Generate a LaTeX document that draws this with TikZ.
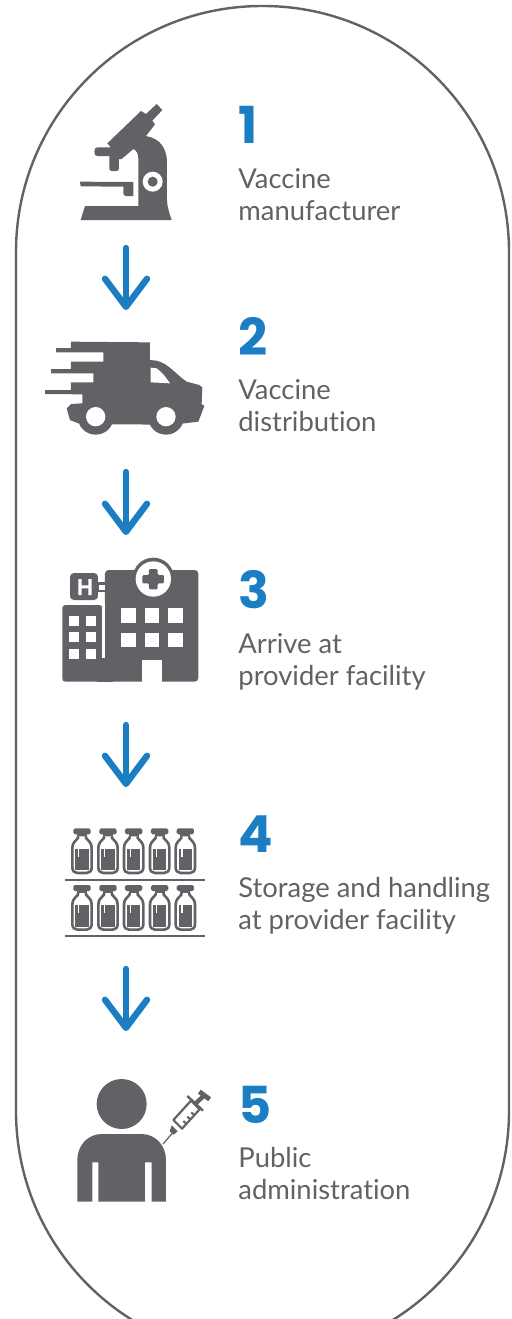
\documentclass[tikz,border=0pt]{standalone}
\usepackage{fontspec}
\setmainfont{Lato}[Ligatures=NoCommon]
\newfontfamily\numfont{Poppins}[UprightFont=*-Bold]
\usetikzlibrary{arrows.meta}
\definecolor{iconc}{HTML}{616266}
\definecolor{bluec}{HTML}{1B7DC2}
\tikzset{
  x=0.5pt,y=-0.5pt,
  num/.style={anchor=base west,inner sep=0pt,text=bluec,font=\numfont\fontsize{25.5pt}{25.5pt}\selectfont},
  lab/.style={anchor=base west,inner sep=0pt,text=iconc,font=\fontsize{13.7pt}{16pt}\selectfont,align=left},
  flow/.style={draw=bluec,line width=3.2pt,line cap=round,-{Straight Barb[round,length=14pt,width=21pt,line width=3.2pt]}},
  zoomed/.style={scale=1/3},
  ic/.style={fill=iconc,draw=none},
  wh/.style={fill=white,draw=none}
}
\newcommand{\vial}[2]{%
 \begin{scope}[shift={(#1,#2)}]
  \fill[iconc,rounded corners=0.8pt] (-26,0) rectangle (26,18);
  \fill[iconc] (-15,18) rectangle (15,26);
  \draw[iconc,line width=1.3pt,fill=white,line join=round] (-12,24) -- (-12,29) .. controls (-20,38) and (-29,44) .. (-29,58) -- (-29,118) .. controls (-29,128) and (-22,134) .. (-14,134) -- (14,134) .. controls (22,134) and (29,128) .. (29,118) -- (29,58) .. controls (29,44) and (20,38) .. (12,29) -- (12,24);
  \fill[iconc] (-20,61) rectangle (20,125);
  \fill[white] (-12,61) rectangle (-8,85);
 \end{scope}}
\begin{document}
\begin{tikzpicture}
\useasboundingbox (0,0) rectangle (511,1319);
\begin{scope}
\clip (0,0) rectangle (511,1319);
\draw[iconc,line width=1.2pt,rounded corners=123pt] (16,6) rectangle (509,1357);
\end{scope}

% microscope
\begin{scope}[shift={(40,90)},zoomed]
 \fill[ic,line join=round] (202,160) -- (303,63) -- (318,72) -- (350,42) -- (367,60) -- (337,92) -- (345,103) -- (318,138)
   .. controls (360,145) and (380,175) .. (381,215) -- (381,330) .. controls (381,350) and (390,375) .. (395,390)
   -- (122,390) -- (135,348) -- (295,348) -- (295,205) .. controls (295,190) and (288,180) .. (280,177) -- (245,207) -- (237,207) -- (237,236) .. controls (237,242) and (232,243) .. (228,243) -- (216,243) .. controls (212,243) and (208,241) .. (208,236) -- (208,198) -- (172,198) .. controls (166,198) and (163,194) .. (163,185) .. controls (163,176) and (166,172) .. (172,172) -- (212,172) -- cycle;
 \fill[ic] (120,275) -- (280,276) -- (280,318) -- (258,318) .. controls (253,318) and (250,314) .. (250,310) -- (250,290) -- (122,289) -- cycle;
 \fill[wh] (338,275) circle (30);
 \fill[ic] (338,275) circle (15);
\end{scope}

% truck
\begin{scope}[shift={(40,330)},zoomed]
 \fill[ic,line join=round] (93,35) -- (330,37) -- (330,90) -- (350,92) .. controls (385,100) and (410,135) .. (440,155) -- (478,165) -- (487,172) -- (485,222) -- (493,228) -- (475,275) -- (400,284) -- (225,283) -- (115,280) -- (90,270) -- (80,235) -- (93,222) -- (127,220) -- (127,193) -- (15,192) -- (15,180) -- (93,180) -- (93,157) -- (160,157) -- (160,130) -- (33,130) -- (33,117) -- (93,117) -- (93,95) -- (190,95) -- (190,67) -- (48,67) -- (48,54) -- (93,54) -- cycle;
 \fill[ic] (167,260) circle (54);
 \fill[ic] (378,260) circle (54);
 \fill[wh] (167,260) circle (29);
 \fill[wh] (378,260) circle (29);
 \fill[wh] (332,113) -- (350,115) .. controls (365,125) and (380,145) .. (390,160) -- (332,157) -- cycle;
\end{scope}

% hospital
\begin{scope}[shift={(50,550)},zoomed]
 \fill[ic,rounded corners=1.8pt] (165,60) rectangle (445,395);
 \fill[ic] (310,85) circle (62);
 \fill[wh] (310,87) circle (53);
 \fill[ic,rounded corners=0.6pt] (297,57) -- (323,57) -- (323,75) -- (342,75) -- (342,100) -- (323,100) -- (323,118) -- (297,118) -- (297,100) -- (277,100) -- (277,75) -- (297,75) -- cycle;
 \fill[ic,rounded corners=1.5pt] (37,395) -- (37,165) -- (157,165) -- (157,395) -- cycle;
 \fill[ic] (140,325) rectangle (190,395);
 \fill[wh] (157,160) rectangle (165,325);
 \fill[wh] (277,330) rectangle (335,396);
 \foreach \cx in {214,284,354} \foreach \cy in {175,248} \fill[wh] (\cx,\cy) rectangle +(44,44);
 \foreach \cx in {58,108} \foreach \cy in {198,247,297} \fill[wh] (\cx,\cy) rectangle +(30,30);
 \fill[ic,rounded corners=2pt] (60,69) rectangle (144,150);
 \fill[ic] (140,96) rectangle (168,127);
 \fill[wh] (148,104) rectangle (164,119);
 \fill[wh] (85,87) rectangle (95,135) (115,87) rectangle (125,135) (95,106) rectangle (115,115);
\end{scope}

% vials
\begin{scope}[shift={(55,820)},zoomed]
 \foreach \cx in {81,159,236,314,391} {\vial{\cx}{25}\vial{\cx}{195}}
 \fill[ic] (30,177) rectangle (450,183);
 \fill[ic] (30,345) rectangle (450,352);
\end{scope}

% person
\begin{scope}[shift={(65,1070)},zoomed]
 \fill[ic] (170,102) circle (75);
 \fill[ic] (37,395) -- (37,270) .. controls (37,225) and (70,192) .. (110,192) -- (230,192) .. controls (270,192) and (303,225) .. (303,270) -- (303,395) -- (260,395) -- (260,277) -- (240,277) -- (240,395) -- (100,395) -- (100,277) -- (82,277) -- (82,395) -- cycle;
 \draw[iconc,line width=0.6pt] (294,222) -- (325,186);
 \draw[iconc,line width=1.1pt,line join=round,fill=white] (404,118) -- (378,92) -- (325,150) -- (351,176) -- cycle;
 \fill[ic] (320,166) -- (338,184) -- (326,194) -- (314,184) -- cycle;
 \draw[iconc,line width=1.2pt] (367,78) -- (414,122);
 \draw[iconc,line width=2.2pt] (390,102) -- (418,76);
 \draw[iconc,line width=2.4pt] (403,65) -- (434,88);
 \draw[iconc,line width=1pt] (388,135) -- (379,127) (376,148) -- (367,140) (364,161) -- (355,153);
\end{scope}

% texts
\node[num] (n1) at (238,143) {1};
\node[lab] (l1a) at (238,188) {Vaccine};
\node[lab] (l1b) at (238,220) {manufacturer};
\node[num] (n2) at (238,355) {2};
\node[lab] (l2a) at (238,399) {Vaccine};
\node[lab] (l2b) at (238,431) {distribution};
\node[num] (n3) at (238,608) {3};
\node[lab] (l3a) at (238,653) {Arrive at};
\node[lab] (l3b) at (238,685) {provider facility};
\node[num] (n4) at (238,852) {4};
\node[lab] (l4a) at (238,897) {Storage and handling};
\node[lab] (l4b) at (238,929) {at provider facility};
\node[num] (n5) at (238,1123) {5};
\node[lab] (l5a) at (238,1167) {Public};
\node[lab] (l5b) at (238,1199) {administration};

% arrows
\coordinate (a1s) at (126,248); \coordinate (a1e) at (126,310);
\coordinate (a2s) at (126,472); \coordinate (a2e) at (126,535);
\coordinate (a3s) at (126,725); \coordinate (a3e) at (126,787);
\coordinate (a4s) at (126,969); \coordinate (a4e) at (126,1031);
\draw[flow] (a1s) -- (a1e);
\draw[flow] (a2s) -- (a2e);
\draw[flow] (a3s) -- (a3e);
\draw[flow] (a4s) -- (a4e);
\end{tikzpicture}
\end{document}
